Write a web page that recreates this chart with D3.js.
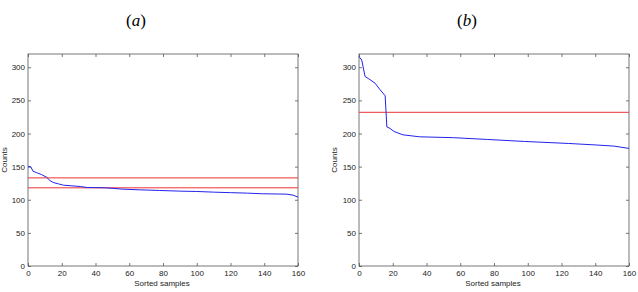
<!DOCTYPE html>
<html>
<head>
<meta charset="utf-8">
<script src="https://cdn.jsdelivr.net/npm/d3@7"></script>
<style>
  body { margin: 0; background: #fff; }
  svg { display: block; }
</style>
</head>
<body>
<svg id="chart" width="638" height="292"></svg>
<script>
'use strict';

// Panel (a): sorted counts
const samplesA = [0, 1.6, 3, 5, 8, 11, 13, 15, 18, 21, 26, 31, 35, 46, 56, 66, 78, 90, 100, 110, 120, 130, 139, 153, 157, 160];
const countsA  = [150, 150, 143, 141, 138, 134, 129, 126, 124, 122, 121, 120, 118.5, 118, 116, 115, 114, 113, 112.5, 111.5, 110.7, 110, 109, 108.5, 107, 104];
const thresholdsA = [133, 118];

// Panel (b)
const samplesB = [0, 1.6, 3.6, 5.5, 9.5, 12.5, 15.5, 16.5, 18.5, 20.8, 26, 36, 56, 76, 98, 124, 141, 151, 160];
const countsB  = [316, 311, 286, 283, 276, 266, 257, 210, 207.5, 203, 198, 195, 193.7, 191, 188, 185, 182.6, 181, 177.5];
const thresholdsB = [232];

const xTicks = [0, 20, 40, 60, 80, 100, 120, 140, 160];
const yTicks = [0, 50, 100, 150, 200, 250, 300];

const panels = [
  { letter: 'a', left: 28, samples: samplesA, counts: countsA, lines: thresholdsA, labelX: 7 },
  { letter: 'b', left: 359, samples: samplesB, counts: countsB, lines: thresholdsB, labelX: 337 }
];

const svg = d3.select('#chart');
const plotTop = 54, plotBottom = 266, plotW = 270;

panels.forEach(function (p) {
  const x = d3.scaleLinear().domain([0, 160]).range([p.left, p.left + plotW]);
  const y = d3.scaleLinear().domain([0, 320]).range([plotBottom, plotTop]);
  const g = svg.append('g');

  // title
  const t = g.append('text')
    .attr('x', p.left + plotW * 0.4)
    .attr('y', 26)
    .attr('text-anchor', 'middle')
    .style('font-family', '"Liberation Serif", "Times New Roman", serif')
    .style('font-size', '17px')
    .attr('fill', '#000');
  t.append('tspan').text('(');
  t.append('tspan').style('font-style', 'italic').text(p.letter);
  t.append('tspan').text(')');

  // axes with inward ticks
  const tickStyle = function (sel) {
    sel.select('.domain').remove();
    sel.selectAll('.tick line').attr('stroke', '#555').attr('stroke-width', 0.8);
    sel.selectAll('.tick text')
      .style('font-family', '"Liberation Sans", Arial, sans-serif')
      .style('font-size', '8px')
      .attr('fill', '#222');
  };

  g.append('g').attr('transform', 'translate(0,' + plotBottom + ')')
    .call(d3.axisBottom(x).tickValues(xTicks).tickSizeInner(-3).tickPadding(4))
    .call(tickStyle);
  g.append('g').attr('transform', 'translate(0,' + plotTop + ')')
    .call(d3.axisTop(x).tickValues(xTicks).tickSizeInner(-3).tickFormat(''))
    .call(tickStyle);
  g.append('g').attr('transform', 'translate(' + p.left + ',0)')
    .call(d3.axisLeft(y).tickValues(yTicks).tickSizeInner(-3).tickPadding(3))
    .call(tickStyle);
  g.append('g').attr('transform', 'translate(' + (p.left + plotW) + ',0)')
    .call(d3.axisRight(y).tickValues(yTicks).tickSizeInner(-3).tickFormat(''))
    .call(tickStyle);

  // box
  g.append('rect')
    .attr('x', p.left).attr('y', plotTop)
    .attr('width', plotW).attr('height', plotBottom - plotTop)
    .attr('fill', 'none').attr('stroke', '#555').attr('stroke-width', 0.8);

  // threshold lines
  g.selectAll('line.thr').data(p.lines).enter().append('line')
    .attr('class', 'thr')
    .attr('x1', x(0)).attr('x2', x(160))
    .attr('y1', d => y(d)).attr('y2', d => y(d))
    .attr('stroke', '#ee3333').attr('stroke-width', 1);

  // sorted counts
  const pts = p.samples.map((s, i) => [s, p.counts[i]]);
  g.append('path')
    .datum(pts)
    .attr('fill', 'none')
    .attr('stroke', '#2222ee')
    .attr('stroke-width', 1)
    .attr('d', d3.line().x(d => x(d[0])).y(d => y(d[1])));

  // axis labels
  g.append('text')
    .attr('x', p.left + plotW / 2 - 1)
    .attr('y', 286)
    .attr('text-anchor', 'middle')
    .style('font-family', '"Liberation Sans", Arial, sans-serif')
    .style('font-size', '8px')
    .attr('fill', '#222')
    .text('Sorted samples');
  g.append('text')
    .attr('transform', 'translate(' + p.labelX + ',' + (plotTop + plotBottom) / 2 + ') rotate(-90)')
    .attr('text-anchor', 'middle')
    .style('font-family', '"Liberation Sans", Arial, sans-serif')
    .style('font-size', '8px')
    .attr('fill', '#222')
    .text('Counts');
});
</script>
</body>
</html>
